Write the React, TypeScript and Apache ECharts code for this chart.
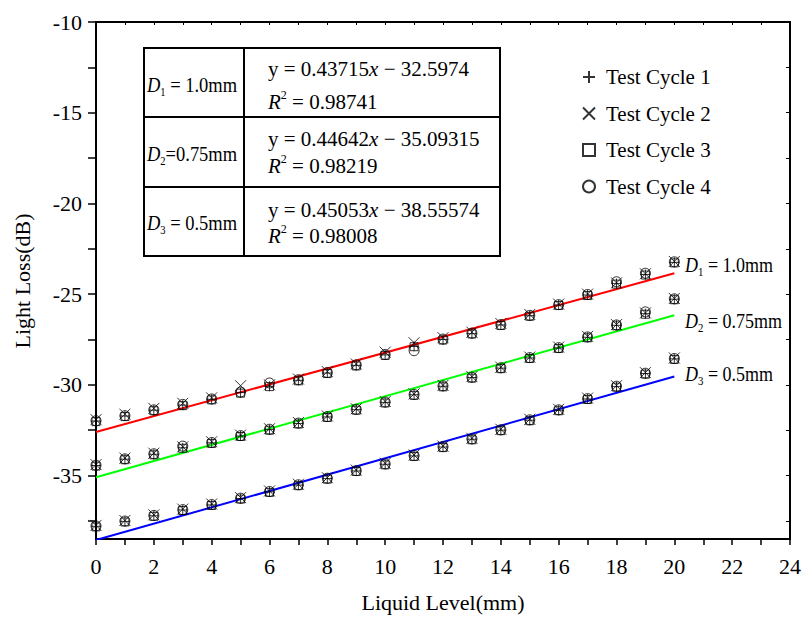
import React, { useEffect, useRef } from 'react';
import * as echarts from 'echarts';

const levels = [0, 1, 2, 3, 4, 5, 6, 7, 8, 9, 10, 11, 12, 13, 14, 15, 16, 17, 18, 19, 20];

const d1Cycle1 = [-32.0, -31.72, -31.4, -31.12, -30.8, -30.43, -30.08, -29.75, -29.35, -28.93, -28.35, -27.88, -27.5, -27.18, -26.7, -26.19, -25.6, -25.05, -24.42, -23.92, -23.25];
const d1Cycle2 = [-31.92, -31.62, -31.3, -31.02, -30.72, -30.05, -30.0, -29.68, -29.27, -28.85, -28.2, -27.68, -27.4, -27.1, -26.62, -26.12, -25.55, -25.0, -24.38, -23.88, -23.2];
const d1Cycle3 = [-32.03, -31.75, -31.43, -31.15, -30.83, -30.46, -30.1, -29.78, -29.38, -28.96, -28.38, -27.9, -27.53, -27.2, -26.73, -26.22, -25.63, -25.08, -24.45, -23.95, -23.28];
const d1Cycle4 = [-31.98, -31.7, -31.38, -31.08, -30.78, -30.4, -29.9, -29.72, -29.32, -28.9, -28.33, -28.12, -27.48, -27.15, -26.68, -26.17, -25.58, -25.02, -24.32, -23.85, -23.22];

const d2Cycle1 = [-34.45, -34.1, -33.83, -33.47, -33.2, -32.82, -32.47, -32.13, -31.77, -31.37, -30.97, -30.55, -30.08, -29.6, -29.08, -28.52, -27.97, -27.38, -26.72, -26.08, -25.28];
const d2Cycle2 = [-34.4, -34.04, -33.77, -33.42, -33.14, -32.77, -32.42, -32.08, -31.72, -31.32, -30.92, -30.5, -30.03, -29.55, -29.03, -28.47, -27.92, -27.33, -26.68, -26.04, -25.24];
const d2Cycle3 = [-34.48, -34.13, -33.86, -33.5, -33.23, -32.85, -32.5, -32.16, -31.8, -31.4, -31.0, -30.58, -30.11, -29.63, -29.11, -28.55, -28.0, -27.41, -26.75, -26.11, -25.31];
const d2Cycle4 = [-34.43, -34.08, -33.8, -33.38, -33.18, -32.8, -32.45, -32.11, -31.75, -31.35, -30.95, -30.53, -30.06, -29.58, -29.06, -28.5, -27.95, -27.36, -26.7, -25.98, -25.26];

const d3Cycle1 = [-37.8, -37.53, -37.22, -36.9, -36.62, -36.27, -35.9, -35.53, -35.17, -34.75, -34.38, -33.92, -33.43, -33.0, -32.5, -31.95, -31.4, -30.78, -30.1, -29.38, -28.57];
const d3Cycle2 = [-37.75, -37.48, -37.17, -36.85, -36.57, -36.22, -35.85, -35.48, -35.12, -34.7, -34.33, -33.87, -33.38, -32.95, -32.45, -31.9, -31.35, -30.73, -30.05, -29.33, -28.52];
const d3Cycle3 = [-37.83, -37.56, -37.25, -36.93, -36.65, -36.3, -35.93, -35.56, -35.2, -34.78, -34.41, -33.95, -33.46, -33.03, -32.53, -31.98, -31.43, -30.81, -30.13, -29.41, -28.6];
const d3Cycle4 = [-37.78, -37.51, -37.2, -36.88, -36.6, -36.25, -35.88, -35.51, -35.15, -34.73, -34.36, -33.9, -33.41, -32.98, -32.48, -31.93, -31.38, -30.76, -30.08, -29.36, -28.55];

const cycleNames = ['Test Cycle 1', 'Test Cycle 2', 'Test Cycle 3', 'Test Cycle 4'];
const fitSlopes = [0.43715, 0.44642, 0.45053];
const fitIntercepts = [-32.5974, -35.09315, -38.55574];
const fitColors = ['#ff0000', '#00ff00', '#0000ff'];
const fitRange = [0, 20];
const diameterLabels = ['1.0mm', '0.75mm', '0.5mm'];
const r2Values = ['0.98741', '0.98219', '0.98008'];
const equationTexts = ['0.43715', '0.44642', '0.45053'];
const interceptTexts = ['32.5974', '35.09315', '38.55574'];

const xTicks = [0, 1, 2, 3, 4, 5, 6, 7, 8, 9, 10, 11, 12, 13, 14, 15, 16, 17, 18, 19, 20, 21, 22, 23, 24];
const xLabels = [0, 2, 4, 6, 8, 10, 12, 14, 16, 18, 20, 22, 24];
const yTicks = [-37.5, -35, -32.5, -30, -27.5, -25, -22.5, -20, -17.5, -15, -12.5, -10];
const yLabels = [-35, -30, -25, -20, -15, -10];

const FONT = 'Liberation Serif';

const cycleData = [
  [d1Cycle1, d2Cycle1, d3Cycle1],
  [d1Cycle2, d2Cycle2, d3Cycle2],
  [d1Cycle3, d2Cycle3, d3Cycle3],
  [d1Cycle4, d2Cycle4, d3Cycle4],
];

const cycleSymbols = [
  'path://M5 0 L5 10 M0 5 L10 5',
  'path://M0 0 L10 10 M10 0 L0 10',
  'rect',
  'circle',
];
const cycleSizes = [10, 11, 8, 10];

const makeRich = (size: number) => ({
  d: { fontFamily: FONT, fontStyle: 'italic', fontSize: size, fill: '#000', lineHeight: 26 },
  r: { fontFamily: FONT, fontStyle: 'italic', fontSize: size, fill: '#000', lineHeight: 26 },
  n: { fontFamily: FONT, fontSize: size, fill: '#000', lineHeight: 26 },
  sub: { fontFamily: FONT, fontSize: 12, fill: '#000', lineHeight: 14, verticalAlign: 'bottom' },
  sup: { fontFamily: FONT, fontSize: 12, fill: '#000', lineHeight: 14, verticalAlign: 'top' },
});

export default function App() {
  const ref = useRef<HTMLDivElement>(null);
  useEffect(() => {
    if (!ref.current) return;
    const chart = echarts.init(ref.current, null, { renderer: 'svg' });

    const scatterSeries = cycleNames.map((name, ci) => ({
      name,
      type: 'scatter',
      symbol: cycleSymbols[ci],
      symbolSize: cycleSizes[ci],
      z: 5,
      itemStyle: { color: 'rgba(0,0,0,0)', borderColor: '#000', borderWidth: 1 },
      data: cycleData[ci].flatMap((arr) => levels.map((x, i) => [x, arr[i]])),
    }));

    const lineSeries = fitSlopes.map((k, di) => ({
      name: 'fit' + (di + 1),
      type: 'line',
      symbol: 'none',
      clip: true,
      z: 3,
      lineStyle: { color: fitColors[di], width: 2 },
      data: fitRange.map((x) => [x, k * x + fitIntercepts[di]]),
    }));

    const graphics: any[] = [];
    graphics.push({
      type: 'text', x: 443, y: 602,
      style: { text: 'Liquid Level(mm)', fontFamily: FONT, fontSize: 22, fill: '#000', textAlign: 'center', textVerticalAlign: 'middle' },
    });
    graphics.push({
      type: 'text', x: 22, y: 281, rotation: Math.PI / 2,
      style: { text: 'Light Loss(dB)', fontFamily: FONT, fontSize: 22, fill: '#000', textAlign: 'center', textVerticalAlign: 'middle' },
    });

    const tL = 144, tR = 500, tT = 48, tB = 256, tC = 244;
    const rowLines = [117, 187];
    graphics.push({ type: 'rect', shape: { x: tL, y: tT, width: tR - tL, height: tB - tT }, style: { fill: '#fff', stroke: '#000', lineWidth: 2 }, z: 10 });
    rowLines.forEach((y) => graphics.push({ type: 'line', shape: { x1: tL, y1: y, x2: tR, y2: y }, style: { stroke: '#000', lineWidth: 2 }, z: 11 }));
    graphics.push({ type: 'line', shape: { x1: tC, y1: tT, x2: tC, y2: tB }, style: { stroke: '#000', lineWidth: 2 }, z: 11 });

    const leftCenters = [85, 154, 223];
    const eqCenters = [69, 139, 210];
    const r2Centers = [102, 166, 236];
    diameterLabels.forEach((lab, di) => {
      const sep = di === 1 ? '=' : ' = ';
      graphics.push({
        type: 'text', x: 147, y: leftCenters[di], z: 12, scaleX: 0.88,
        style: { text: `{d|D}{sub|${di + 1}}{n|${sep}${lab}}`, rich: makeRich(21), textVerticalAlign: 'middle' },
      });
      graphics.push({
        type: 'text', x: 268, y: eqCenters[di], z: 12,
        style: { text: `{n|y = ${equationTexts[di]}}{r|x}{n| − ${interceptTexts[di]}}`, rich: makeRich(21), textVerticalAlign: 'middle' },
      });
      graphics.push({
        type: 'text', x: 268, y: r2Centers[di], z: 12,
        style: { text: `{r|R}{sup|2}{n| = ${r2Values[di]}}`, rich: makeRich(21), textVerticalAlign: 'middle' },
      });
    });

    const rightCenters = [265, 321, 374];
    diameterLabels.forEach((lab, di) => {
      graphics.push({
        type: 'text', x: 685, y: rightCenters[di], z: 12, scaleX: 0.9,
        style: { text: `{d|D}{sub|${di + 1}}{n| = ${lab}}`, rich: makeRich(20), textVerticalAlign: 'middle' },
      });
    });

    const axisLine = { show: true, onZero: false, lineStyle: { color: '#000', width: 2 } };

    chart.setOption({
      animation: false,
      backgroundColor: '#fff',
      grid: { left: 96, top: 22, width: 694, height: 517, containLabel: false },
      legend: {
        show: true,
        data: cycleNames,
        orient: 'vertical',
        left: 577,
        top: 60,
        itemWidth: 12,
        itemHeight: 12,
        itemGap: 12.5,
        textStyle: { fontFamily: FONT, fontSize: 21, color: '#000', lineHeight: 24, padding: [0, 0, 0, 6] },
      },
      xAxis: [
        {
          type: 'value', min: 0, max: 24, position: 'bottom',
          axisLine,
          axisTick: { show: true, inside: false, length: 6, customValues: xTicks, lineStyle: { color: '#000', width: 1.5 } },
          axisLabel: { show: true, customValues: xLabels, margin: 16, fontFamily: FONT, fontSize: 22, color: '#000' },
          splitLine: { show: false },
        },
        {
          type: 'value', min: 0, max: 24, position: 'top',
          axisLine,
          axisTick: { show: true, inside: true, length: 3, customValues: xTicks, lineStyle: { color: '#000', width: 1 } },
          axisLabel: { show: false },
          splitLine: { show: false },
        },
      ],
      yAxis: [
        {
          type: 'value', min: -38.5, max: -10, position: 'left',
          axisLine,
          axisTick: { show: true, inside: false, length: 8, customValues: yTicks, lineStyle: { color: '#000', width: 1.5 } },
          axisLabel: { show: true, customValues: yLabels, margin: 14, fontFamily: FONT, fontSize: 22, color: '#000' },
          splitLine: { show: false },
        },
        {
          type: 'value', min: -38.5, max: -10, position: 'right',
          axisLine,
          axisTick: { show: true, inside: true, length: 4, customValues: yTicks, lineStyle: { color: '#000', width: 1 } },
          axisLabel: { show: false },
          splitLine: { show: false },
        },
      ],
      series: [...lineSeries, ...scatterSeries],
      graphic: graphics,
    });

    return () => chart.dispose();
  }, []);

  return <div ref={ref} style={{ position: 'fixed', left: 0, top: 0, width: 804, height: 617 }} />;
}
